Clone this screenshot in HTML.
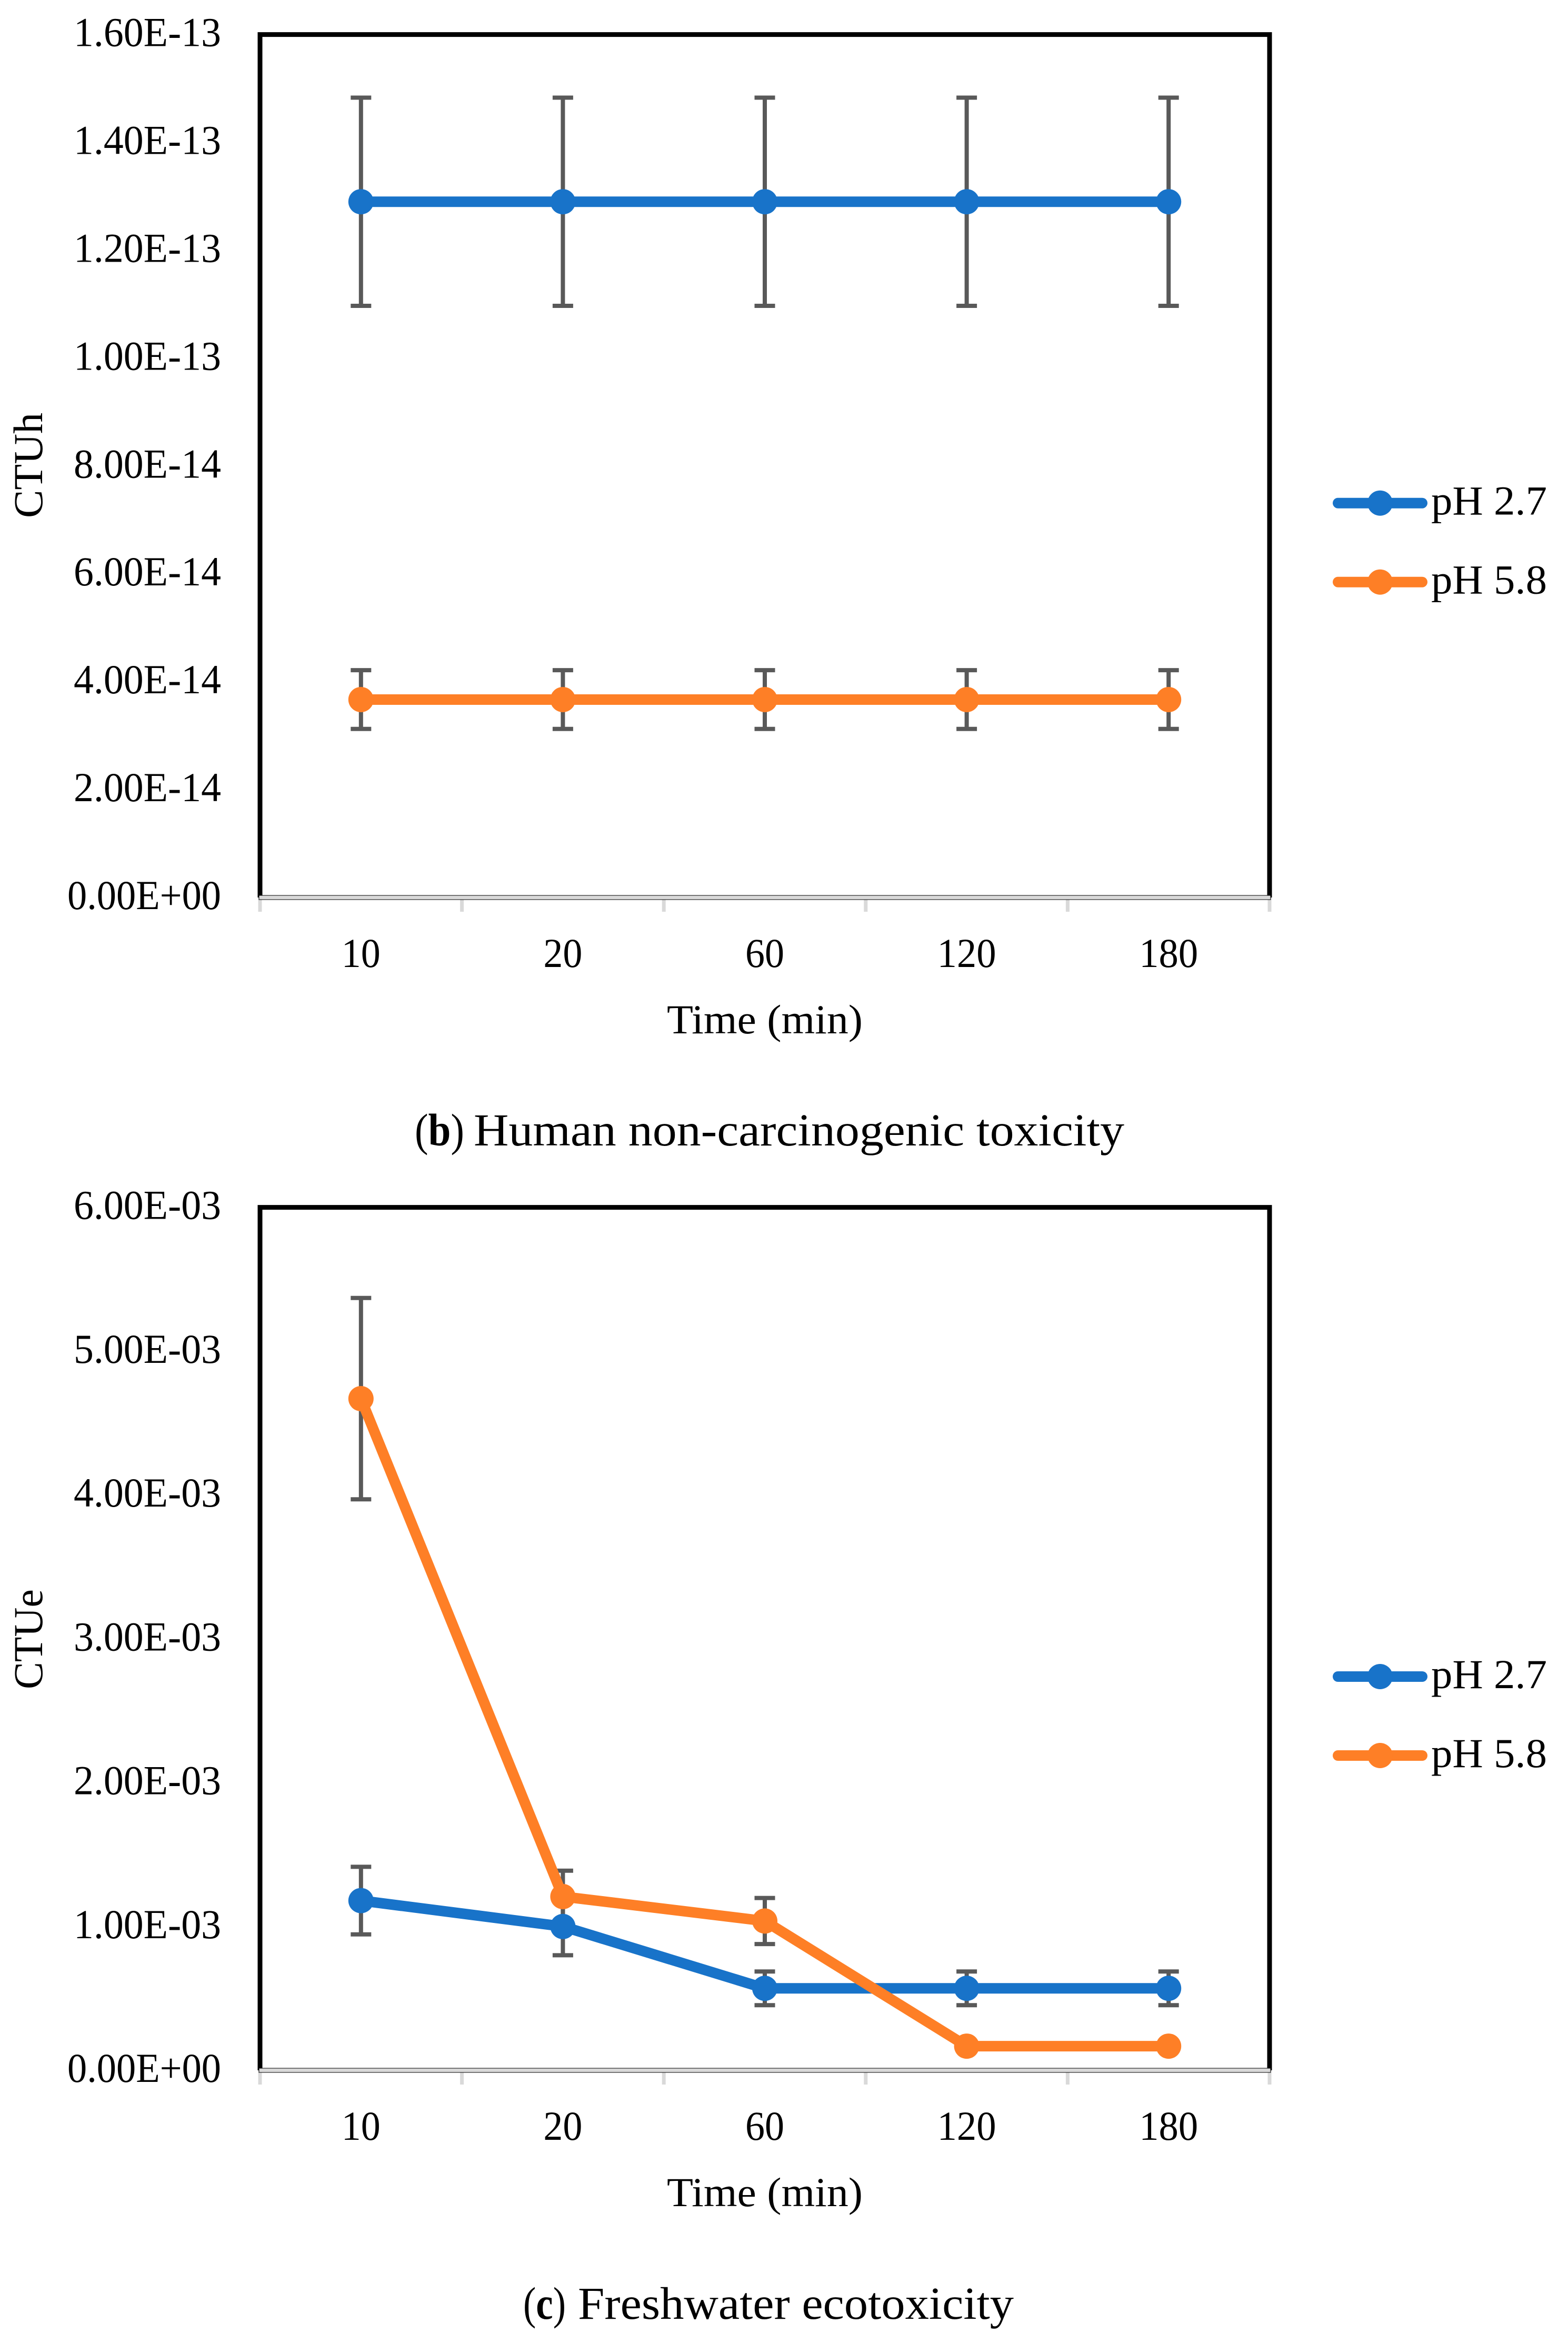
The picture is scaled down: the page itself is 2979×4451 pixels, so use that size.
<!DOCTYPE html>
<html lang="en">
<head>
<meta charset="utf-8">
<title>Human non-carcinogenic toxicity and freshwater ecotoxicity over time</title>
<style>
html,body{margin:0;padding:0;background:#fff;width:2979px;height:4451px;overflow:hidden}
svg{display:block}
text{font-family:"Liberation Serif",serif;fill:#000}
</style>
</head>
<body>
<svg id="figure" xmlns="http://www.w3.org/2000/svg" width="2979" height="4451" viewBox="0 0 2979 4451"></svg>
<script>
// Shared data
const categories = ['10', '20', '60', '120', '180'];
const seriesNames = ['pH 2.7', 'pH 5.8'];

// Panel (b): human non-carcinogenic toxicity
const humanTicks = [0, 2e-14, 4e-14, 6e-14, 8e-14, 1e-13, 1.2e-13, 1.4e-13, 1.6e-13];
const humanTickLabels = ['0.00E+00', '2.00E-14', '4.00E-14', '6.00E-14', '8.00E-14', '1.00E-13', '1.20E-13', '1.40E-13', '1.60E-13'];
const humanPh27 = [1.29e-13, 1.29e-13, 1.29e-13, 1.29e-13, 1.29e-13];
const humanPh27Err = [1.93e-14, 1.93e-14, 1.93e-14, 1.93e-14, 1.93e-14];
const humanPh58 = [3.67e-14, 3.67e-14, 3.67e-14, 3.67e-14, 3.67e-14];
const humanPh58Err = [5.45e-15, 5.45e-15, 5.45e-15, 5.45e-15, 5.45e-15];

// Panel (c): freshwater ecotoxicity
const freshTicks = [0, 1e-3, 2e-3, 3e-3, 4e-3, 5e-3, 6e-3];
const freshTickLabels = ['0.00E+00', '1.00E-03', '2.00E-03', '3.00E-03', '4.00E-03', '5.00E-03', '6.00E-03'];
const freshPh27 = [1.18e-3, 1.0e-3, 5.7e-4, 5.7e-4, 5.7e-4];
const freshPh27Err = [2.35e-4, 2.0e-4, 1.17e-4, 1.17e-4, 1.17e-4];
const freshPh58 = [4.67e-3, 1.208e-3, 1.038e-3, 1.68e-4, 1.68e-4];
const freshPh58Err = [7.0e-4, 1.8e-4, 1.6e-4, 2.5e-5, 2.5e-5];

const NS = 'http://www.w3.org/2000/svg';
const root = document.getElementById('figure');
const COLORS = ['#1873c9', '#fe7f26'];
const GREY = '#595959';

function make(tag, attrs, parent) {
  const el = document.createElementNS(NS, tag);
  for (const k in attrs) el.setAttribute(k, attrs[k]);
  parent.appendChild(el);
  return el;
}
function label(str, attrs, parent) {
  const el = make('text', attrs, parent);
  el.setAttribute('lengthAdjust', 'spacingAndGlyphs');
  el.textContent = str;
  return el;
}

function drawPanel(cfg) {
  const left = 494, right = 2412, top = cfg.top, bottom = top + 1639.4;
  const yMax = cfg.ticks[cfg.ticks.length - 1];
  const xScale = i => left + (right - left) * (i + 0.5) / categories.length;
  const yScale = v => bottom - (v / yMax) * (bottom - top);

  const g = make('g', {}, root);
  
  

  // Plot frame
  const frame = make('path', {
    d: `M${left} ${bottom}V${top}H${right}V${bottom}`,
    fill: 'none', stroke: '#000', 'stroke-width': 9
  }, g);
  
  

  // X axis ticks
  for (let i = 0; i <= categories.length; i++) {
    const x = left + (right - left) * i / categories.length;
    const tick = make('line', { x1: x, x2: x, y1: bottom, y2: bottom + 27, stroke: '#d9d9d9', 'stroke-width': 7 }, g);
    
    
  }

  // X axis band
  const axis = make('rect', { x: left - 2, y: bottom - 4, width: right - left + 4, height: 8, fill: '#d9d9d9', stroke: '#000', 'stroke-width': 1 }, g);
  
  

  // Y tick labels
  cfg.ticks.forEach((v, i) => {
    const t = cfg.tickLabels[i];
    const lab = label(t, {
      x: 420, y: yScale(v) + 22, 'font-size': 78, 'text-anchor': 'end',
      textLength: t.includes('+') ? 292 : 280
    }, g);
    
    
  });

  // X tick labels
  categories.forEach((c, i) => {
    const lab = label(c, {
      x: xScale(i), y: bottom + 132, 'font-size': 78, 'text-anchor': 'middle',
      textLength: c.length === 3 ? 112 : 74
    }, g);
    
    
  });

  // Axis titles
  const yTitle = label(cfg.yTitle, {
    transform: `translate(80 ${cfg.yTitleY}) rotate(-90)`,
    'font-size': 78, 'text-anchor': 'middle', textLength: cfg.yTitleLen
  }, g);
  
  

  const xTitle = label('Time (min)', {
    x: 1453, y: bottom + 258, 'font-size': 78, 'text-anchor': 'middle', textLength: 372
  }, g);
  
  

  // Error bars, behind every line
  cfg.series.forEach((s, si) => {
    s.values.forEach((v, i) => {
      const x = xScale(i), yHi = yScale(v + s.err[i]), yLo = yScale(v - s.err[i]);
      const bar = make('path', {
        d: `M${x} ${yHi}V${yLo}M${x - 19.5} ${yHi}H${x + 19.5}M${x - 19.5} ${yLo}H${x + 19.5}`,
        fill: 'none', stroke: GREY, 'stroke-width': 8
      }, g);
      
      
    });
  });

  // Series lines and markers
  cfg.series.forEach((s, si) => {
    const pts = s.values.map((v, i) => xScale(i) + ',' + yScale(v)).join(' ');
    const line = make('polyline', {
      points: pts, fill: 'none', stroke: COLORS[si], 'stroke-width': 20, 'stroke-linejoin': 'round', 'stroke-linecap': 'round'
    }, g);
    
    
    s.values.forEach((v, i) => {
      const dot = make('circle', { cx: xScale(i), cy: yScale(v), r: 24, fill: COLORS[si] }, g);
      
      
    });
  });

  // Legend
  seriesNames.forEach((n, i) => {
    const y = cfg.legendY + i * 150;
    const lg = make('line', { x1: 2542, x2: 2702, y1: y, y2: y, stroke: COLORS[i], 'stroke-width': 20, 'stroke-linecap': 'round' }, g);
    
    
    const ld = make('circle', { cx: 2622, cy: y, r: 24, fill: COLORS[i] }, g);
    
    
    const lt = label(n, { x: 2719, y: y + 22, 'font-size': 78, textLength: 220 }, g);
    
    
  });

  // Caption: panel letter and description are placed separately
  const tag = make('text', {
    x: cfg.capX, y: cfg.capY, 'font-size': 87,
    textLength: cfg.tagLen, lengthAdjust: 'spacingAndGlyphs'
  }, g);
  
  
  tag.appendChild(document.createTextNode('('));
  const bold = make('tspan', { 'font-weight': 'bold' }, tag);
  bold.textContent = cfg.capLetter;
  tag.appendChild(document.createTextNode(')'));

  const cap = label(cfg.capText, {
    x: cfg.textX, y: cfg.capY, 'font-size': 87, textLength: cfg.textLen
  }, g);
  
  
}

drawPanel({
  name: 'human-toxicity-panel', top: 65.6,
  ticks: humanTicks, tickLabels: humanTickLabels,
  series: [{ values: humanPh27, err: humanPh27Err }, { values: humanPh58, err: humanPh58Err }],
  yTitle: 'CTUh', yTitleY: 884, yTitleLen: 200, legendY: 955.7,
  capX: 788, capY: 2176, tagLen: 94, capLetter: 'b',
  textX: 900, textLen: 1236, capText: 'Human non-carcinogenic toxicity'
});
drawPanel({
  name: 'freshwater-ecotoxicity-panel', top: 2293.6,
  ticks: freshTicks, tickLabels: freshTickLabels,
  series: [{ values: freshPh27, err: freshPh27Err }, { values: freshPh58, err: freshPh58Err }],
  yTitle: 'CTUe', yTitleY: 3114, yTitleLen: 190, legendY: 3185,
  capX: 994, capY: 4405, tagLen: 81, capLetter: 'c',
  textX: 1098, textLen: 828, capText: 'Freshwater ecotoxicity'
});
</script>
</body>
</html>
